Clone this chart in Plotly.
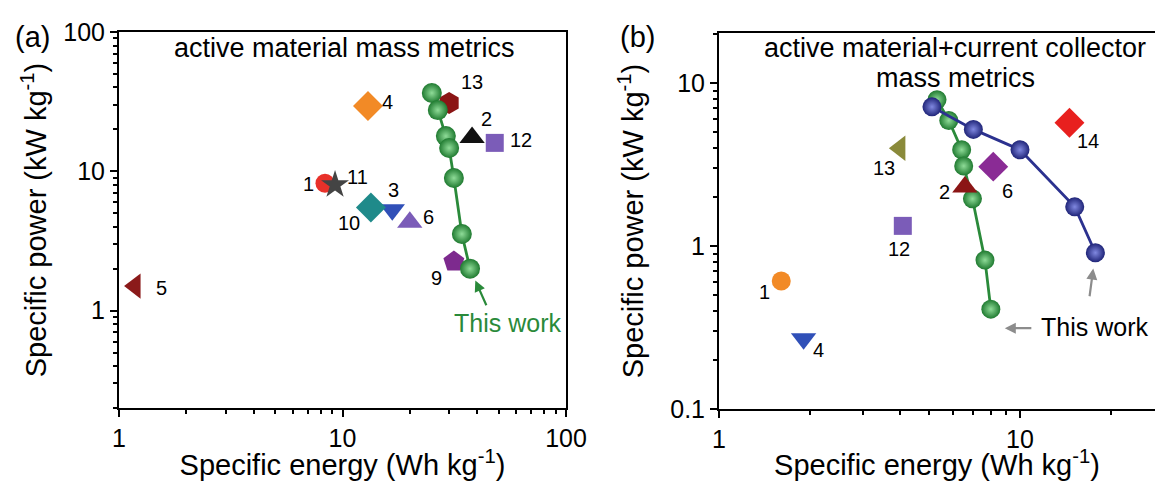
import numpy as np
import plotly.graph_objects as go

# ---------------- DATA ----------------
# Panel (a): active material mass metrics
a_ref_labels = ["1", "2", "3", "4", "5", "6", "9", "10", "11", "12", "13"]
a_ref_energy = [8.35, 38.0, 16.7, 13.0, 1.18, 20.0, 31.5, 13.4, 9.26, 48.0, 30.0]
a_ref_power = [8.2, 17.5, 5.3, 29.4, 1.5, 4.3, 2.25, 5.5, 8.0, 16.0, 30.9]
a_work_energy = [25.1, 26.7, 29.0, 30.0, 31.5, 34.2, 37.2]
a_work_power = [36.5, 27.5, 17.9, 14.7, 8.95, 3.55, 2.0]

# Panel (b): active material + current collector mass metrics
b_ref_labels = ["1", "2", "4", "6", "12", "13", "14"]
b_ref_energy = [1.61, 6.56, 1.91, 8.15, 4.08, 3.99, 14.6]
b_ref_power = [0.61, 2.3, 0.27, 3.07, 1.33, 3.98, 5.71]
b_green_energy = [5.3, 5.8, 6.4, 6.5, 6.95, 7.65, 8.0]
b_green_power = [7.9, 5.9, 3.9, 3.1, 1.95, 0.82, 0.41]
b_blue_energy = [5.1, 7.0, 10.0, 15.2, 17.8]
b_blue_power = [7.15, 5.2, 3.9, 1.74, 0.91]

x_title = "Specific energy (Wh kg<sup>-1</sup>)"
y_title = "Specific power (kW kg<sup>-1</sup>)"

# ---------------- STYLES ----------------
FONT = "Liberation Sans, Arial, sans-serif"
W, H = 1155, 481
GREEN = "#2a8a3a"
BLUE = "#2b318f"

a_style = {  # symbol, color, size, label xshift, label yshift
    "1": ("circle", "#e8312a", 19, -17, -1),
    "2": ("triangle-up", "#111111", 22, 14, 18),
    "3": ("triangle-down", "#3050b8", 22, 1, 20),
    "4": ("diamond", "#f28a26", 23, 20, 4),
    "5": ("triangle-left", "#8b1a1a", 22, 26, -2),
    "6": ("triangle-up", "#7b5cb8", 22, 19, 5),
    "9": ("pentagon", "#7d2a8e", 22, -17, -16),
    "10": ("diamond", "#1f8a8a", 23, -22, -16),
    "11": ("star", "#444444", 21, 22, 8),
    "12": ("square", "#7b5cb8", 18, 26, 3),
    "13": ("hexagon", "#8b1515", 22, 23, 21),
}
b_style = {
    "1": ("circle", "#f28a26", 19, -17, -11),
    "2": ("triangle-up", "#8b1515", 22, -20, -5),
    "4": ("triangle-down", "#3050b8", 22, 15, -11),
    "6": ("diamond", "#8a2b95", 23, 14, -24),
    "12": ("square", "#7b5cb8", 18, -4, -23),
    "13": ("triangle-left", "#8a8a3a", 22, -16, -20),
    "14": ("diamond", "#e8201e", 23, 19, -18),
}

fig = go.Figure()
annotations = []


def add_refs(labels, ex, py, style, xa, ya):
    for lab, e, p in zip(labels, ex, py):
        sym, col, size, dx, dy = style[lab]
        fig.add_trace(go.Scatter(
            x=[e], y=[p], mode="markers", xaxis=xa, yaxis=ya,
            marker=dict(symbol=sym, color=col, size=size, line=dict(width=0)),
            showlegend=False, hoverinfo="skip"))
        annotations.append(dict(
            x=np.log10(e), y=np.log10(p), xref=xa, yref=ya, text=lab,
            showarrow=False, xshift=dx, yshift=dy,
            xanchor="center", yanchor="middle",
            font=dict(family=FONT, size=20, color="black")))


def add_balls(ex, py, color, edge, light, size, xa, ya):
    fig.add_trace(go.Scatter(
        x=ex, y=py, mode="lines+markers", xaxis=xa, yaxis=ya,
        line=dict(color=color, width=2.8),
        marker=dict(symbol="circle", size=size, color=edge,
                    gradient=dict(type="radial", color=light),
                    line=dict(width=0)),
        showlegend=False, hoverinfo="skip"))


# Panel (a)
add_refs(a_ref_labels, a_ref_energy, a_ref_power, a_style, "x", "y")
add_balls(a_work_energy, a_work_power, GREEN, "#1f7a30", "#8fdc98", 20, "x", "y")

# Panel (b)
add_balls(b_green_energy, b_green_power, GREEN, "#1f7a30", "#8fdc98", 19, "x2", "y2")
add_balls(b_blue_energy, b_blue_power, BLUE, "#1f2478", "#8088e0", 19, "x2", "y2")
add_refs(b_ref_labels, b_ref_energy, b_ref_power, b_style, "x2", "y2")

# "This work" annotations
ae, ap = np.log10(a_work_energy[-1]), np.log10(a_work_power[-1])
annotations.append(dict(x=ae, y=ap, xref="x", yref="y", text="This work",
                        showarrow=False, xshift=37, yshift=-54,
                        xanchor="center", yanchor="middle",
                        font=dict(family=FONT, size=25, color=GREEN)))
annotations.append(dict(x=ae, y=ap, xref="x", yref="y", text="",
                        showarrow=True, ax=17, ay=38, standoff=13,
                        arrowhead=2, arrowsize=1, arrowwidth=2.2,
                        arrowcolor=GREEN))

ge, gp = np.log10(b_green_energy[-1]), np.log10(b_green_power[-1])
be, bp = np.log10(b_blue_energy[-1]), np.log10(b_blue_power[-1])
annotations.append(dict(x=be, y=bp, xref="x2", yref="y2", text="This work",
                        showarrow=False, xshift=-1, yshift=-74,
                        xanchor="center", yanchor="middle",
                        font=dict(family=FONT, size=25, color="black")))
annotations.append(dict(x=be, y=bp, xref="x2", yref="y2", text="",
                        showarrow=True, ax=-6, ay=45, standoff=16,
                        arrowhead=2, arrowsize=1, arrowwidth=2.2,
                        arrowcolor="#8c8c8c"))
annotations.append(dict(x=ge, y=gp, xref="x2", yref="y2", text="",
                        showarrow=True, ax=28, ay=0, xshift=14, yshift=-19,
                        arrowhead=2, arrowsize=1, arrowwidth=2.2,
                        arrowcolor="#8c8c8c"))


# Panel titles / texts (paper coordinates)
def px(x):
    return x / W


def py_(y):
    return 1 - y / H


def ptext(x, y, text, size):
    return dict(x=px(x), y=py_(y), xref="paper", yref="paper", text=text,
                showarrow=False, xanchor="center", yanchor="middle",
                font=dict(family=FONT, size=size, color="black"))


annotations += [
    ptext(344, 48, "active material mass metrics", 27),
    ptext(955, 48, "active material+current collector", 27),
    ptext(955, 78, "mass metrics", 27),
    ptext(32, 37, "(a)", 29),
    ptext(637, 37, "(b)", 29),
]

axis_common = dict(
    type="log", showline=True, linecolor="black", linewidth=2,
    ticks="outside", ticklen=7, tickwidth=2, tickcolor="black",
    dtick=1, showgrid=False, zeroline=False, automargin=False,
    tickfont=dict(family=FONT, size=25, color="black"),
    minor=dict(ticks="outside", ticklen=4, tickwidth=1.5, tickcolor="black",
               dtick="D1", showgrid=False),
)

fig.update_layout(
    template="none",
    width=W, height=H,
    margin=dict(l=0, r=0, t=0, b=0),
    paper_bgcolor="white", plot_bgcolor="white",
    showlegend=False,
    font=dict(family=FONT, color="black"),
    xaxis=dict(axis_common, domain=[px(119), px(566)], range=[0, 2],
               anchor="y", mirror=True,
               title=dict(text=x_title, standoff=8,
                          font=dict(family=FONT, size=29))),
    yaxis=dict(axis_common, domain=[py_(408), py_(32)],
               range=[np.log10(0.2), 2], anchor="x", mirror=True,
               title=dict(text=y_title, standoff=8,
                          font=dict(family=FONT, size=29))),
    xaxis2=dict(axis_common, domain=[px(719), 1.0],
                range=[0, (W - 719) / 301], anchor="y2", mirror=True,
                title=dict(text=x_title, standoff=8,
                           font=dict(family=FONT, size=29))),
    yaxis2=dict(axis_common, domain=[py_(409), py_(33)],
                range=[-1, np.log10(20.3)], anchor="x2", mirror=False,
                title=dict(text=y_title, standoff=18,
                           font=dict(family=FONT, size=29))),
    annotations=annotations,
)

fig.write_html("out.html", config={"displayModeBar": False},
               post_script="document.body.style.margin='0';")
